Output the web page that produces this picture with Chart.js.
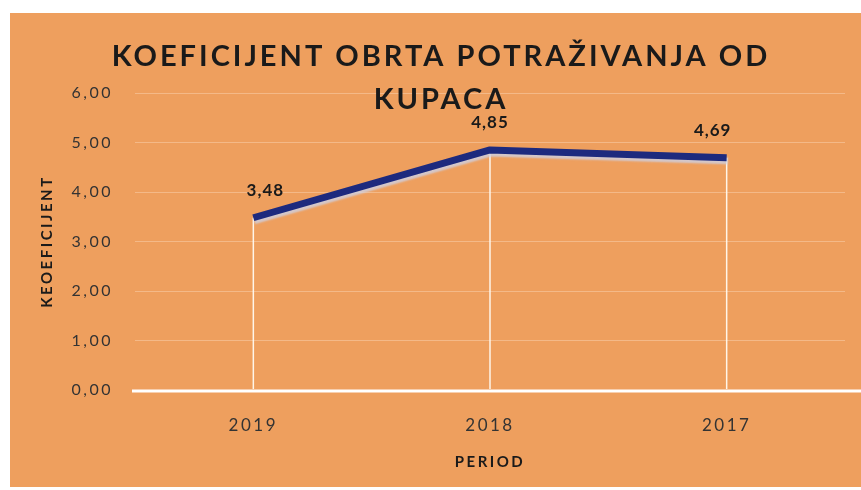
<!DOCTYPE html>
<html>
<head>
<meta charset="utf-8">
<script src="https://cdn.jsdelivr.net/npm/chart.js@4"></script>
<style>
  html, body { margin: 0; padding: 0; background: #ffffff; }
  #wrap { position: absolute; left: 10px; top: 13px; width: 851px; height: 474px; background: #EE9F5E; }
  canvas { display: block; }
</style>
</head>
<body>
<div id="wrap"><canvas id="c" width="851" height="474"></canvas></div>
<script>
const chartTitle = ['KOEFICIJENT OBRTA POTRAŽIVANJA OD', 'KUPACA'];
const categories = ['2019', '2018', '2017'];
const values = [3.48, 4.85, 4.69];
const yTicks = [0, 1, 2, 3, 4, 5, 6];
const yAxisTitle = 'KEOEFICIJENT';
const xAxisTitle = 'PERIOD';

const fmt = v => v.toFixed(2).replace('.', ',');

const spacingPlugin = {
  id: 'spacing',
  beforeDraw(chart) { chart.ctx.letterSpacing = '2.5px'; }
};

const dropLines = {
  id: 'dropLines',
  beforeDatasetsDraw(chart) {
    const ctx = chart.ctx;
    const meta = chart.getDatasetMeta(0);
    const y0 = chart.scales.y.getPixelForValue(0);
    ctx.save();
    ctx.strokeStyle = '#ffffff';
    ctx.lineWidth = 3;
    ctx.beginPath();
    ctx.moveTo(chart.chartArea.left - 3, y0 + 1);
    ctx.lineTo(chart.width, y0 + 1);
    ctx.stroke();
    ctx.lineWidth = 1.5;
    ctx.strokeStyle = 'rgba(255,250,240,0.95)';
    meta.data.forEach(p => {
      ctx.beginPath();
      ctx.moveTo(p.x, p.y);
      ctx.lineTo(p.x, y0 - 1);
      ctx.stroke();
    });
    ctx.restore();
  }
};

const lineShadow = {
  id: 'lineShadow',
  beforeDatasetDraw(chart) {
    const ctx = chart.ctx;
    ctx.save();
    ctx.shadowColor = 'rgba(205,210,230,0.8)';
    ctx.shadowOffsetX = 1;
    ctx.shadowOffsetY = 3;
    ctx.shadowBlur = 2;
  },
  afterDatasetDraw(chart) { chart.ctx.restore(); }
};

const labelShift = [12, 0, -14];
const labelsAndTitle = {
  id: 'labelsAndTitle',
  afterDatasetsDraw(chart) {
    const ctx = chart.ctx;
    const meta = chart.getDatasetMeta(0);
    ctx.save();
    ctx.letterSpacing = '1px';
    ctx.fillStyle = '#1a1a1a';
    ctx.font = 'bold 17px Lato';
    ctx.textAlign = 'center';
    ctx.textBaseline = 'middle';
    meta.data.forEach((p, i) => {
      ctx.fillText(fmt(values[i]), p.x + labelShift[i], p.y - 27);
    });
    ctx.font = 'bold 29px Lato';
    ctx.letterSpacing = '3px';
    ctx.fillText(chartTitle[0], 431, 44);
    ctx.fillText(chartTitle[1], 431, 87);
    ctx.restore();
  }
};

new Chart(document.getElementById('c'), {
  type: 'line',
  data: {
    labels: categories,
    datasets: [{
      data: values,
      borderColor: '#1D2A7E',
      borderWidth: 7,
      pointRadius: 0,
      tension: 0,
      borderJoinStyle: 'round',
      borderCapStyle: 'butt'
    }]
  },
  options: {
    responsive: false,
    animation: false,
    layout: { padding: { top: 80, right: 16, left: 0, bottom: 0 } },
    plugins: { legend: { display: false }, tooltip: { enabled: false }, title: { display: false } },
    scales: {
      x: {
        offset: true,
        grid: { display: false, drawTicks: false },
        border: { display: false },
        ticks: { color: '#333333', font: { family: 'Lato', size: 17 }, padding: 25, maxRotation: 0 },
        title: { display: true, text: xAxisTitle, color: '#1a1a1a', font: { family: 'Lato', size: 15, weight: 'bold' }, padding: { top: 0, bottom: 16 } },
        afterFit(s) { s.height = 97; }
      },
      y: {
        min: yTicks[0],
        max: yTicks[yTicks.length - 1],
        afterBuildTicks(s) { s.ticks = yTicks.map(v => ({ value: v })); },
        grid: {
          drawTicks: false,
          color: ctx => ctx.tick && ctx.tick.value === 0 ? 'rgba(0,0,0,0)' : 'rgba(255,235,215,0.35)',
          lineWidth: 1
        },
        border: { display: false },
        ticks: { color: '#333333', font: { family: 'Lato', size: 16 }, padding: 22, callback: v => fmt(v) },
        title: { display: true, text: yAxisTitle, color: '#1a1a1a', font: { family: 'Lato', size: 15, weight: 'bold' }, padding: { top: 28, bottom: 0 } },
        afterFit(s) { s.width = 125; }
      }
    }
  },
  plugins: [spacingPlugin, dropLines, lineShadow, labelsAndTitle]
});
</script>
</body>
</html>
